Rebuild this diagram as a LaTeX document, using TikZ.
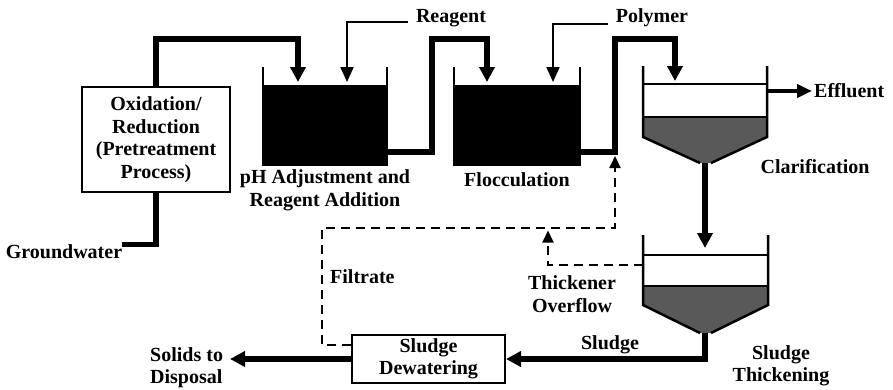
\documentclass[tikz,border=0pt]{standalone}
\usepackage{fontspec}
\setmainfont{Liberation Serif}
\usetikzlibrary{arrows.meta}
\begin{document}
\begin{tikzpicture}[x=1pt,y=-1pt,
  lbl/.style={font=\bfseries\fontsize{20}{22.5}\selectfont, inner sep=0pt, align=center},
  pipe/.style={line width=5.5pt, -{Triangle[width=15pt,length=15pt]}},
  pipen/.style={line width=5.5pt},
  feed/.style={line width=2pt, -{Triangle[width=13pt,length=15pt]}},
  recyc/.style={line width=2pt, dash pattern=on 9pt off 6pt, -{Triangle[width=11pt,length=12pt]}},
  wall/.style={line width=2.5pt},
  wline/.style={line width=1.5pt},
  sludge/.style={fill=black!65},
]
\useasboundingbox (0,0) rectangle (893,389);

% Oxidation / reduction box
\node[lbl, draw, line width=2.5pt, minimum width=148pt, minimum height=105pt] (ox) at (156,139.5)
  {Oxidation/\\Reduction\\(Pretreatment\\Process)};
\node[lbl] (gw) at (64,252) {Groundwater};
\draw[pipen] (gw.north east) -| (ox.south);

% pH adjustment tank
\node[fill=black, inner sep=0pt, minimum width=124pt, minimum height=80pt] (ph) at (325,125) {};
\draw[wall] (263,67) -- (263,165) -- (387,165) -- (387,67);
\node[lbl] (phl) at (325,190.5) {pH Adjustment and\\Reagent Addition};
\coordinate (phA) at (298,82);
\coordinate (phB) at (347,82);
\draw[pipe] (ox.north) |- (298,39) -- (phA);
\node[lbl] (rg) at (451,18) {Reagent};
\draw[feed] ([xshift=-8pt,yshift=-4pt]rg.west) -| (phB);

% Flocculation tank
\node[fill=black, inner sep=0pt, minimum width=126pt, minimum height=80pt] (fl) at (517,125) {};
\draw[wall] (454,67) -- (454,165) -- (580,165) -- (580,67);
\node[lbl] (fll) at (517,180) {Flocculation};
\coordinate (phO) at (387,152);
\coordinate (flA) at (487,82);
\coordinate (flB) at (553,82);
\draw[pipe] (phO) -- (432,152) |- (487,39) -- (flA);
\node[lbl] (poly) at (652,18) {Polymer};
\draw[feed] ([xshift=-8pt,yshift=-6pt]poly.west) -| (flB);

% Clarifier
\coordinate (flO) at (580,152);
\coordinate (clA) at (675,81);
\draw[pipe] (flO) -- (615,152) |- (675,39) -- (clA);
\fill[sludge] (643,117) -- (767,117) -- (767,137) -- (711,163) -- (700,163) -- (643,137) -- cycle;
\draw[wall] (643,66) -- (643,137) -- (700,163);
\draw[wall] (767,66) -- (767,137) -- (711,163);
\draw[wline] (643,84) -- (767,84);
\draw[wline] (643,117) -- (767,117);
\coordinate (clE) at (767,91);
\node[lbl, anchor=west] (eff) at (814,91) {Effluent};
\draw[line width=4pt, -{Triangle[width=13pt,length=15pt]}] (clE) -- ([xshift=-2pt]eff.west);
\node[lbl] (cll) at (815,167) {Clarification};

% Thickener
\coordinate (clO) at (705,163);
\coordinate (thA) at (705,248);
\draw[line width=6pt, -{Triangle[width=15pt,length=15pt]}] (clO) -- (thA);
\fill[sludge] (643,286) -- (768,286) -- (768,305) -- (711,333) -- (700,333) -- (643,305) -- cycle;
\draw[wall] (643,235) -- (643,305) -- (700,333);
\draw[wall] (768,235) -- (768,305) -- (711,333);
\draw[wline] (643,255) -- (768,255);
\draw[wline] (643,286) -- (768,286);
\node[lbl] (thl) at (781,366) {Sludge\\Thickening};

% Sludge dewatering
\node[lbl, draw, line width=2pt, minimum width=153pt, minimum height=48pt] (dw) at (428.5,359) {Sludge\\Dewatering};
\coordinate (thO) at (705,333);
\draw[line width=6pt, -{Triangle[width=15pt,length=15pt]}] (thO) |- (dw.east);
\node[lbl] (sl) at (610,345) {Sludge};
\node[lbl, align=left, anchor=west] (sol) at (150,367.5) {Solids to\\Disposal};
\coordinate (solT) at (230,359);
\draw[pipe] (dw.west) -- (solT);

% Recycle lines
\coordinate (riseT) at (615,156);
\draw[recyc] ([yshift=14pt]dw.west) -| (322,228) -| (riseT);
\coordinate (thOv) at (643,265);
\draw[recyc] (thOv) -| (548,230.5);
\node[lbl, anchor=west] (filt) at (330,277) {Filtrate};
\node[lbl] (tov) at (572,294) {Thickener\\Overflow};
\end{tikzpicture}
\end{document}
